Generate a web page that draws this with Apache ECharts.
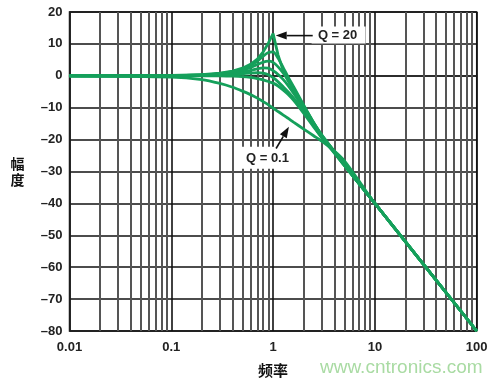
<!DOCTYPE html>
<html><head><meta charset="utf-8">
<script src="https://cdn.jsdelivr.net/npm/echarts@6/dist/echarts.min.js"></script>
<style>html,body{margin:0;padding:0;background:#fff}#c{width:503px;height:383px}</style>
</head><body><div id="c"></div>
<script>
var freq = [0.01, 0.1, 0.2, 0.3, 0.4, 0.5, 0.6, 0.7, 0.8, 0.9, 1, 1.12, 1.26, 1.4, 1.6, 2, 2.5, 3, 4, 5, 7, 10, 100];
var curveQ20 = [0, 0.1, 0.35, 0.8, 1.5, 2.4, 3.6, 5.2, 7.5, 10.3, 13.2, 6.5, 1.5, -1.5, -4.5, -9.6, -14.8, -18.6, -23.8, -27.8, -33.8, -40, -80];
var curveB = [0, 0.05, 0.3, 0.7, 1.3, 2.1, 3.2, 4.6, 6.2, 7.3, 7.5, 5.5, 2.5, -0.3, -3.6, -9.2, -14.6, -18.5, -23.7, -27.8, -33.8, -40, -80];
var curveC = [0, 0.04, 0.25, 0.6, 1.1, 1.8, 2.6, 3.5, 4.3, 4.6, 4.2, 2.8, 0.8, -1.3, -4.3, -9.5, -14.8, -18.7, -23.8, -27.8, -33.8, -40, -80];
var curveD = [0, 0.03, 0.2, 0.45, 0.8, 1.25, 1.7, 2.2, 2.5, 2.4, 1.6, 0.4, -1.2, -3, -5.6, -10.2, -15.2, -19, -24, -28, -33.8, -40, -80];
var curveE = [0, 0.02, 0.1, 0.25, 0.45, 0.65, 0.85, 0.95, 0.8, 0.3, -0.6, -1.9, -3.5, -5, -7.1, -11, -15.6, -19.3, -24.1, -28.1, -33.9, -40, -80];
var curveF = [0, 0, 0, -0.05, -0.12, -0.25, -0.5, -0.85, -1.3, -1.8, -2.3, -3.2, -4.5, -5.8, -7.8, -11.8, -16, -19.4, -24.2, -28.1, -33.9, -40, -80];
var curveQ01 = [0, -0.4, -1.2, -2.4, -3.6, -4.8, -5.9, -7.0, -8.1, -9.1, -10.1, -11.2, -12.3, -13.3, -14.6, -16.7, -18.8, -20.5, -23.6, -26.6, -33, -40, -80];
var minorGrid = [0.02,0.03,0.04,0.05,0.06,0.07,0.08,0.09,0.2,0.3,0.4,0.5,0.6,0.7,0.8,0.9,2,3,4,5,6,7,8,9,20,30,40,50,60,70,80,90];
var xTicks = [0.01, 0.1, 1, 10, 100];

var GREEN = '#15a05b';
var FONT = 'Liberation Sans, Arial, sans-serif';
function pairs(v){ return freq.map(function(f,i){ return [f, v[i]]; }); }
var curves = [curveQ01, curveF, curveE, curveD, curveC, curveB, curveQ20];
var series = curves.map(function(c, i){
  return {type:'line', data: pairs(c), symbol:'none', smooth: (c === curveQ20) ? false : 0.25,
    lineStyle:{color:GREEN, width:2.8}, z: 5, silent:true, animation:false};
});
series[0].markLine = {silent:true, symbol:['none','none'], label:{show:false}, animation:false,
  lineStyle:{color:'#555', width:2, type:'solid'},
  data: minorGrid.map(function(v){ return {xAxis:v}; }), z:1};

var chart = echarts.init(document.getElementById('c'), null, {renderer:'canvas'});
chart.setOption({
  animation:false,
  grid:{left:69.5, right:26.3, top:12, bottom:46.3, show:true, borderColor:'#222', borderWidth:1.5, backgroundColor:'transparent'},
  xAxis:{type:'log', logBase:10, min:0.01, max:100,
    name:'频率', nameLocation:'middle', nameGap:32,
    nameTextStyle:{fontFamily:'Noto Sans CJK SC', fontWeight:'bold', fontSize:15, color:'#111'},
    axisLine:{show:true, lineStyle:{color:'#222', width:1.5}}, axisTick:{show:false},
    axisLabel:{margin:10, fontFamily:FONT, fontWeight:'bold', fontSize:13, color:'#222',
      formatter:function(v){ var s = xTicks.find(function(t){return Math.abs(t-v)/t<1e-6;}); return s===undefined?'':String(s); }},
    splitLine:{show:true, lineStyle:{color:'#111', width:1.6}}},
  yAxis:{type:'value', min:-80, max:20, interval:10,
    name:'幅\n度', nameLocation:'middle', nameGap:45, nameRotate:0,
    nameTextStyle:{fontFamily:'Noto Sans CJK SC', fontWeight:'bold', fontSize:14, color:'#111', lineHeight:16},
    axisLine:{show:true, lineStyle:{color:'#222', width:1.5}}, axisTick:{show:false},
    axisLabel:{margin:7, fontFamily:FONT, fontWeight:'bold', fontSize:13, color:'#222',
      formatter:function(v){ return v<0 ? '\u2013'+Math.abs(v) : String(v); }},
    splitLine:{show:true, lineStyle:{color:'#111', width:1.6}}},
  series: series
});

function px(x,y){ return chart.convertToPixel({gridIndex:0}, [x,y]); }
function arrow(tail, tip){
  var dx = tip[0]-tail[0], dy = tip[1]-tail[1], L = Math.sqrt(dx*dx+dy*dy);
  var ux = dx/L, uy = dy/L, hl = 11, hw = 4;
  var bx = tip[0]-ux*hl, by = tip[1]-uy*hl;
  return [
    {type:'line', shape:{x1:tail[0], y1:tail[1], x2:bx, y2:by}, style:{stroke:'#111', lineWidth:1.6}, z:20},
    {type:'polygon', shape:{points:[[tip[0],tip[1]],[bx-uy*hw, by+ux*hw],[bx+uy*hw, by-ux*hw]]}, style:{fill:'#111'}, z:20}
  ];
}
var t20 = px(4.3, 12.6), a20tail = px(2.45, 12.6), a20tip = px(1.06, 12.6);
var t01 = px(0.88, -26), a01tail = px(1.07, -22.8), a01tip = px(1.43, -16);
var g = [];
g.push({type:'rect', shape:{x:t20[0]-26, y:t20[1]-9, width:54, height:17}, style:{fill:'#fff'}, z:15});
g.push({type:'text', x:t20[0], y:t20[1], style:{text:'Q = 20', font:'bold 13px '+FONT, fill:'#222', align:'center', verticalAlign:'middle'}, z:21});
g.push({type:'rect', shape:{x:t01[0]-26, y:t01[1]-12, width:52, height:22}, style:{fill:'#fff'}, z:15});
g.push({type:'text', x:t01[0], y:t01[1], style:{text:'Q = 0.1', font:'bold 13px '+FONT, fill:'#222', align:'center', verticalAlign:'middle'}, z:21});
g = g.concat(arrow(a20tail, a20tip)).concat(arrow(a01tail, a01tip));
g.push({type:'text', left:320, top:358, style:{text:'www.cntronics.com', font:'19px '+FONT, fill:'#a9dba3'}, z:30});
chart.setOption({graphic: g});
</script></body></html>
